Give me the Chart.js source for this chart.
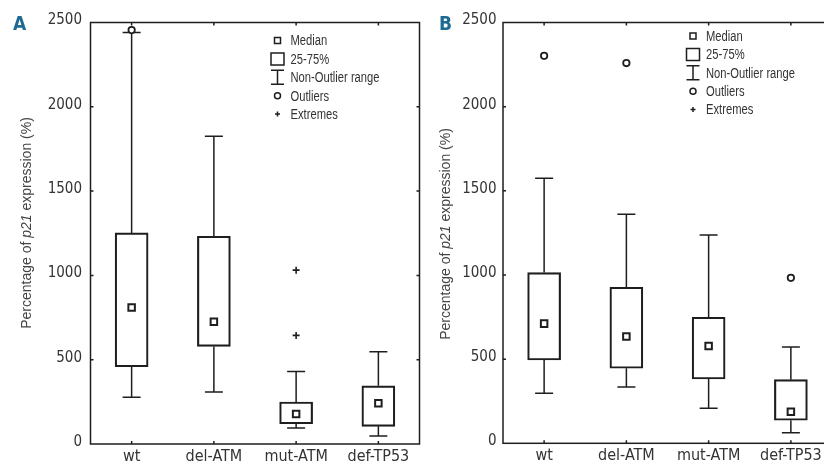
<!DOCTYPE html>
<html>
<head>
<meta charset="utf-8">
<script src="https://cdn.jsdelivr.net/npm/chart.js@4.4.1/dist/chart.umd.min.js"></script>
<style>
  body { margin: 0; background: #fff; width: 824px; height: 464px; overflow: hidden; position: relative; }
  canvas { position: absolute; top: 0; }
  #chartA { left: 0; }
  #chartB { left: 420px; }
</style>
</head>
<body>
<canvas id="chartA" width="440" height="464"></canvas>
<canvas id="chartB" width="440" height="464"></canvas>
<script>
const categories = ['wt', 'del-ATM', 'mut-ATM', 'def-TP53'];
const yTickValues = [0, 500, 1000, 1500, 2000, 2500];
const legendLabels = ['Median', '25-75%', 'Non-Outlier range', 'Outliers', 'Extremes'];
const titleParts = ['Percentage of ', 'p21', ' expression (%)'];

// panel A
const aMin = [277, 308, 95, 47];
const aQ1 = [458, 579, 120, 105];
const aMedian = [810, 725, 178, 241];
const aQ3 = [1252, 1232, 249, 345];
const aMax = [2440, 1825, 430, 547];
const aOutliers = [[2455], [], [], []];
const aExtremes = [[], [], [1031, 644], []];

// panel B
const bMin = [297, 335, 208, 63];
const bQ1 = [495, 446, 382, 137];
const bMedian = [711, 634, 578, 188];
const bQ3 = [1014, 927, 749, 378];
const bMax = [1575, 1361, 1238, 572];
const bOutliers = [[2302], [2259], [], [983]];
const bExtremes = [[], [], [], []];

const INK = '#1e1e1e';
const TEXT = '#333';
const NARROW = '"DejaVu Sans Condensed", "Liberation Sans", sans-serif';
const REGULAR = '"Liberation Sans", Arial, sans-serif';

// Arial-like text squeezed horizontally, to stand in for a narrow face
function narrowText(ctx, text, x, y, squeeze) {
  ctx.save();
  ctx.translate(x, y);
  ctx.scale(squeeze, 1);
  ctx.fillText(text, 0, 0);
  ctx.restore();
}

const panelPlugin = {
  id: 'panel',
  beforeDatasetsDraw(chart, args, opts) {
    const { ctx } = chart;
    const xs = chart.scales.x, ys = chart.scales.y;
    const cap = 9;
    ctx.save();
    ctx.strokeStyle = INK;
    ctx.lineWidth = 1.5;
    categories.forEach((c, i) => {
      const x = xs.getPixelForValue(i);
      const segs = [[opts.q3[i], opts.max[i]], [opts.q1[i], opts.min[i]]];
      segs.forEach(([from, to]) => {
        const y0 = ys.getPixelForValue(from), y1 = ys.getPixelForValue(to);
        ctx.beginPath();
        ctx.moveTo(x, y0); ctx.lineTo(x, y1);
        ctx.moveTo(x - cap, y1); ctx.lineTo(x + cap, y1);
        ctx.stroke();
      });
    });
    ctx.restore();
  },
  afterDraw(chart, args, opts) {
    const { ctx, chartArea: a } = chart;
    const xs = chart.scales.x, ys = chart.scales.y;
    ctx.save();
    // frame and inner ticks
    ctx.strokeStyle = INK;
    ctx.lineWidth = 1.5;
    ctx.strokeRect(a.left, a.top, a.right - a.left, a.bottom - a.top);
    ctx.beginPath();
    categories.forEach((c, i) => {
      const x = xs.getPixelForValue(i);
      ctx.moveTo(x, a.top); ctx.lineTo(x, a.top + 3);
      ctx.moveTo(x, a.bottom); ctx.lineTo(x, a.bottom - 3);
    });
    yTickValues.slice(1, -1).forEach(v => {
      const y = ys.getPixelForValue(v);
      ctx.moveTo(a.left, y); ctx.lineTo(a.left + 3, y);
      ctx.moveTo(a.right, y); ctx.lineTo(a.right - 3, y);
    });
    ctx.stroke();

    // panel letter
    ctx.fillStyle = '#1d6a93';
    ctx.font = 'bold 19px ' + NARROW;
    ctx.textBaseline = 'alphabetic';
    ctx.textAlign = 'left';
    ctx.fillText(opts.letter, opts.letterX, 30);

    // y title with italic gene name
    ctx.save();
    ctx.translate(opts.titleX, opts.titleY);
    ctx.rotate(-Math.PI / 2);
    ctx.fillStyle = '#444';
    ctx.textBaseline = 'middle';
    const fonts = ['14px ' + REGULAR, 'italic 14px ' + REGULAR, '14px ' + REGULAR];
    const widths = titleParts.map((t, i) => { ctx.font = fonts[i]; return ctx.measureText(t).width; });
    let tx = -widths.reduce((s, w) => s + w, 0) / 2;
    titleParts.forEach((t, i) => { ctx.font = fonts[i]; ctx.fillText(t, tx, 0); tx += widths[i]; });
    ctx.restore();

    // legend
    const lx = opts.legendX, ly = opts.legendY, step = 18.4;
    ctx.strokeStyle = INK;
    ctx.lineWidth = 1.5;
    ctx.fillStyle = TEXT;
    ctx.font = '14px ' + REGULAR;
    ctx.textBaseline = 'middle';
    legendLabels.forEach((lab, i) => {
      const y = ly + i * step;
      ctx.beginPath();
      if (i === 0) ctx.rect(lx - 3, y - 3, 6, 6);
      if (i === 1) ctx.rect(lx - 6.5, y - 6, 13, 12);
      if (i === 2) {
        ctx.moveTo(lx, y - 7); ctx.lineTo(lx, y + 7);
        ctx.moveTo(lx - 6.5, y - 7); ctx.lineTo(lx + 6.5, y - 7);
        ctx.moveTo(lx - 6.5, y + 7); ctx.lineTo(lx + 6.5, y + 7);
      }
      if (i === 3) ctx.arc(lx, y, 3, 0, Math.PI * 2);
      if (i === 4) {
        ctx.moveTo(lx - 2.5, y); ctx.lineTo(lx + 2.5, y);
        ctx.moveTo(lx, y - 2.5); ctx.lineTo(lx, y + 2.5);
      }
      ctx.stroke();
      narrowText(ctx, lab, lx + 13, y + 1, 0.8);
    });
    ctx.restore();
  }
};

function makeChart(id, p) {
  const boxes = p.q1.map((v, i) => [v, p.q3[i]]);
  const pts = arr => arr.flatMap((vals, i) => vals.map(v => ({ x: categories[i], y: v })));
  const marker = (style, r, w) => ({
    type: 'line', showLine: false, pointStyle: style, pointRadius: r,
    pointBackgroundColor: '#fff', pointBorderColor: INK, pointBorderWidth: w
  });
  return new Chart(document.getElementById(id), {
    type: 'bar',
    data: {
      labels: categories,
      datasets: [
        { data: boxes, backgroundColor: 'rgba(0,0,0,0)', borderColor: INK, borderWidth: 1.5,
          borderSkipped: false, barThickness: 33 },
        { ...marker('rect', 4.6, 2), data: p.median },
        { ...marker('circle', 3.2, 1.8), data: pts(p.outliers) },
        { ...marker('cross', 3.5, 1.6), data: pts(p.extremes) }
      ]
    },
    options: {
      responsive: false,
      animation: false,
      events: [],
      layout: { padding: { left: 0, right: p.padRight, top: 22.5, bottom: 0 } },
      scales: {
        x: {
          grid: { display: false, drawTicks: false },
          border: { display: false },
          ticks: { color: TEXT, font: { family: NARROW, size: 16 }, padding: 3, maxRotation: 0 },
          afterFit: s => { s.height = p.xHeight; }
        },
        y: {
          min: 0, max: 2500,
          afterBuildTicks: s => { s.ticks = yTickValues.map(v => ({ value: v })); },
          grid: { display: false, drawTicks: false },
          border: { display: false },
          ticks: { color: TEXT, font: { family: NARROW, size: 15 }, padding: p.tickPad, labelOffset: -2,
                   callback: v => String(v) },
          afterFit: s => { s.width = p.yWidth; }
        }
      },
      plugins: {
        legend: { display: false },
        tooltip: { enabled: false },
        panel: {
          min: p.min, q1: p.q1, q3: p.q3, max: p.max,
          letter: p.letter, letterX: p.letterX,
          titleX: p.titleX, titleY: p.titleY,
          legendX: p.legendX, legendY: p.legendY
        }
      }
    },
    plugins: [panelPlugin]
  });
}

makeChart('chartA', {
  min: aMin, q1: aQ1, median: aMedian, q3: aQ3, max: aMax, outliers: aOutliers, extremes: aExtremes,
  yWidth: 90.5, padRight: 20.5, xHeight: 20, tickPad: 8.5,
  letter: 'A', letterX: 13, titleX: 27, titleY: 223, legendX: 277.5, legendY: 40.5
});

makeChart('chartB', {
  min: bMin, q1: bQ1, median: bMedian, q3: bQ3, max: bMax, outliers: bOutliers, extremes: bExtremes,
  yWidth: 83, padRight: 28, xHeight: 20.7, tickPad: 6.5,
  letter: 'B', letterX: 19, titleX: 26, titleY: 234, legendX: 273, legendY: 36
});
</script>
</body>
</html>
